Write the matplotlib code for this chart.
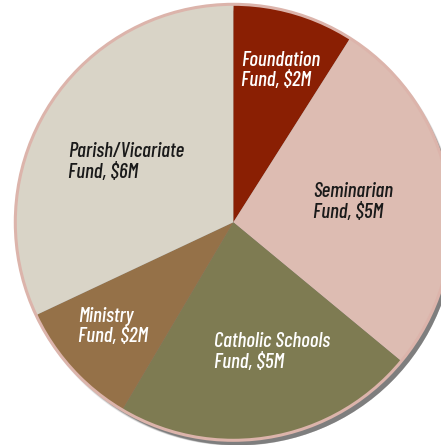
import matplotlib.pyplot as plt
from matplotlib.patches import Circle

# fund sizes in $M, labels as printed on the chart
funds = ['Foundation', 'Seminarian', 'Catholic Schools', 'Ministry', 'Parish/Vicariate']
amounts = [1.8, 5.4, 4.5, 1.9, 6.4]
labels = ['Foundation\nFund, $2M', 'Seminarian\nFund, $5M', 'Catholic Schools\nFund, $5M',
          'Ministry\nFund, $2M', 'Parish/Vicariate\nFund, $6M']
colors = ['#8a1f03', '#ddbcb2', '#7e7b52', '#957148', '#d9d4c7']
text_colors = ['white', '#1a1a1a', 'white', 'white', '#1a1a1a']
# label anchor (left x, first baseline y) in pixels from top-left
label_pos = [(241, 66), (313, 197), (214, 347), (78, 322), (68, 157)]

W, H = 441, 445
fig = plt.figure(figsize=(W / 100, H / 100), dpi=100)
ax = fig.add_axes([0, 0, 1, 1])

cx, cy, r = 233.3, H - 222.3, 218

# soft drop shadow
for i, a in enumerate([0.10, 0.15, 0.25, 0.35]):
    ax.add_patch(Circle((cx + 3 + i * 0.6, cy - 4 - i * 0.6), r + 1.5 - i * 0.8,
                        color='#333333', alpha=a, lw=0, zorder=1))

ax.pie(amounts, colors=colors, startangle=90, counterclock=False,
       center=(cx, cy), radius=r, frame=True,
       wedgeprops=dict(linewidth=0, zorder=2))
ax.set_xlim(0, W)
ax.set_ylim(0, H)
ax.set_aspect('equal')
ax.axis('off')

# rose outline round the pie
ax.add_patch(Circle((cx, cy), r, fill=False, ec='#dcb4ab', lw=2.2, zorder=3))

for lab, (x, y), tc in zip(labels, label_pos, text_colors):
    for k, line in enumerate(lab.split('\n')):
        ax.text(x, H - (y + 20.5 * k), line, color=tc, fontsize=15,
                family=['Barlow Condensed', 'DejaVu Sans'], style='italic',
                weight='medium', ha='left', va='baseline', zorder=5)

fig.savefig('out.png', dpi=100)
